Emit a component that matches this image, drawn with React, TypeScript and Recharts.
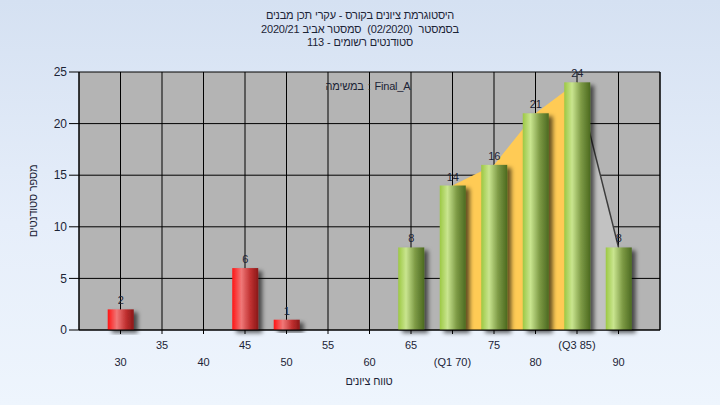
import React from 'react';
import {
  ComposedChart, Bar, Area, XAxis, YAxis, CartesianGrid, LabelList, Cell,
} from 'recharts';

// grade bins and number of students in each one
const scores = [30, 35, 40, 45, 50, 55, 60, 65, 70, 75, 80, 85, 90];
const counts = [2, 0, 0, 6, 1, 0, 0, 8, 14, 16, 21, 24, 8];
const tickLabels = ['30', '35', '40', '45', '50', '55', '60', '65', '(Q1 70)', '75', '80', '(Q3 85)', '90'];
const yTicks = [0, 5, 10, 15, 20, 25];

const passMark = 55;
const q1 = 70;
const q3 = 85;
const maxScore = 90;

const titleLines = [
  'היסטוגרמת ציונים בקורס - עקרי תכן מבנים',
  'בסמסטר  (02/2020)  סמסטר אביב 2020/21',
  'סטודנטים רשומים - 113',
];
const xTitle = 'טווח ציונים';
const yTitle = 'מספר סטודנטים';
const taskPrefix = 'במשימה';
const taskName = 'Final_A';

const data = scores.map((score, i) => ({
  score,
  count: counts[i],
  quart: score >= q1 && score <= q3 ? counts[i] : null,
  tail: score >= q3 && score <= maxScore ? counts[i] : null,
}));

const font = "'Liberation Sans', 'DejaVu Sans', Arial, sans-serif";
const textColor = '#1c2436';

// words laid out one at a time, so their order on screen can be set
const WordRow = ({ words, flip, style }: { words: string[]; flip?: boolean; style?: React.CSSProperties }) => (
  <div
    style={{
      display: 'flex', justifyContent: 'center', direction: 'ltr', gap: 3,
      flexDirection: flip ? 'row-reverse' : 'row',
      whiteSpace: 'nowrap', ...style,
    }}
  >
    {words.map((w, i) => (
      <span key={i} style={{ unicodeBidi: 'isolate' }}>{w}</span>
    ))}
  </div>
);

const BarShape = (props: any) => {
  const { x, y, width, height, payload } = props;
  if (!height || height <= 0) return null;
  const fail = payload.score < passMark;
  return (
    <rect
      x={x}
      y={y}
      width={width}
      height={height}
      fill={fail ? 'url(#gRed)' : 'url(#gGreen)'}
      filter="url(#barShadow)"
    />
  );
};

const XTick = (props: any) => {
  const { x, y, index } = props;
  const upper = index % 2 === 1;
  return (
    <text
      x={x}
      y={y + (upper ? 9 : 26)}
      textAnchor="middle"
      dominantBaseline="central"
      fontSize={11}
      fontFamily={font}
      fill={textColor}
    >
      {tickLabels[index]}
    </text>
  );
};

const hebText: React.CSSProperties = {
  fontSize: 11, letterSpacing: '-0.2px', color: textColor,
};

export default function App() {
  return (
    <div
      style={{
        position: 'absolute', left: 0, top: 0, width: 720, height: 405,
        background: 'linear-gradient(180deg, #d5e1f2 0%, #e6eefa 55%, #eef5fd 100%)',
        fontFamily: font, overflow: 'hidden',
      }}
    >
      <div
        style={{
          position: 'absolute', top: 9, left: 0, width: 720, lineHeight: '13.5px',
        }}
      >
        {titleLines.map((t, i) => <WordRow key={i} words={t.split(' ')} flip style={hebText} />)}
      </div>

      <ComposedChart
        width={720}
        height={405}
        data={data}
        margin={{ top: 72, right: 0, bottom: 0, left: 0 }}
        style={{ position: 'absolute', left: 0, top: 0 }}
      >
        <defs>
          <linearGradient id="gGreen" x1="0" y1="0" x2="1" y2="0">
            <stop offset="0" stopColor="#9cc843" />
            <stop offset="0.3" stopColor="#c9e58f" />
            <stop offset="0.65" stopColor="#7d9a45" />
            <stop offset="1" stopColor="#4c6a20" />
          </linearGradient>
          <linearGradient id="gRed" x1="0" y1="0" x2="1" y2="0">
            <stop offset="0" stopColor="#ff1414" />
            <stop offset="0.35" stopColor="#f07878" />
            <stop offset="0.7" stopColor="#c03030" />
            <stop offset="1" stopColor="#8a1818" />
          </linearGradient>
          <filter id="barShadow" x="-20%" y="-10%" width="160%" height="130%">
            <feDropShadow dx="4" dy="3" stdDeviation="2.2" floodColor="#000" floodOpacity="0.6" />
          </filter>
        </defs>
        <CartesianGrid stroke="#000" strokeWidth={1} fill="#b4b4b4" fillOpacity={1} yAxisId="left" />
        <XAxis
          dataKey="score"
          type="category"
          height={75}
          interval={0}
          padding={{ left: 20.75, right: 20.75 }}
          tickSize={4}
          tickMargin={2}
          stroke="#000"
          tick={<XTick />}
        />
        <YAxis
          yAxisId="left"
          width={79}
          domain={[0, 25]}
          ticks={yTicks}
          tickSize={10}
          tickMargin={2}
          stroke="#000"
          tick={{ fontSize: 12, fill: textColor, fontFamily: font }}
        />
        <YAxis
          yAxisId="right"
          orientation="right"
          width={60}
          domain={[0, 25]}
          ticks={yTicks}
          tickSize={8}
          tickMargin={2}
          stroke="#000"
          tick={{ fontSize: 12, fill: '#1c2e52', fontFamily: font, textAnchor: 'start' }}
        />
        <Area
          yAxisId="left"
          dataKey="tail"
          type="linear"
          stroke="#3c3c3c"
          strokeWidth={1.5}
          fill="#c2c2c2"
          fillOpacity={1}
          dot={false}
          activeDot={false}
          isAnimationActive={false}
        />
        <Area
          yAxisId="left"
          dataKey="quart"
          type="linear"
          stroke="none"
          fill="#ffcb55"
          fillOpacity={1}
          dot={false}
          activeDot={false}
          isAnimationActive={false}
        />
        <Bar
          yAxisId="left"
          dataKey="count"
          barSize={26}
          shape={<BarShape />}
          isAnimationActive={false}
        >
          {data.map((d, i) => (
            <Cell key={i} fill={d.score < passMark ? '#e02020' : '#8db53a'} />
          ))}
          <LabelList
            dataKey="count"
            position="top"
            offset={5}
            formatter={(v: any) => (v ? v : '')}
            style={{ fontSize: 11, fill: textColor, fontFamily: font }}
          />
        </Bar>
      </ComposedChart>

      <WordRow
        words={[taskPrefix, ':', taskName]}
        style={{ ...hebText, position: 'absolute', left: 268, top: 79, width: 200, lineHeight: '14px', gap: 4 }}
      />
      <WordRow
        words={xTitle.split(' ')}
        flip
        style={{ ...hebText, position: 'absolute', left: 269, top: 374, width: 200, lineHeight: '14px' }}
      />
      <div
        style={{
          ...hebText,
          position: 'absolute', left: 33 - 60, top: 201 - 8, width: 120, height: 16,
          textAlign: 'center', lineHeight: '16px',
          transform: 'rotate(-90deg)', direction: 'rtl',
        }}
      >
        {yTitle}
      </div>
    </div>
  );
}
